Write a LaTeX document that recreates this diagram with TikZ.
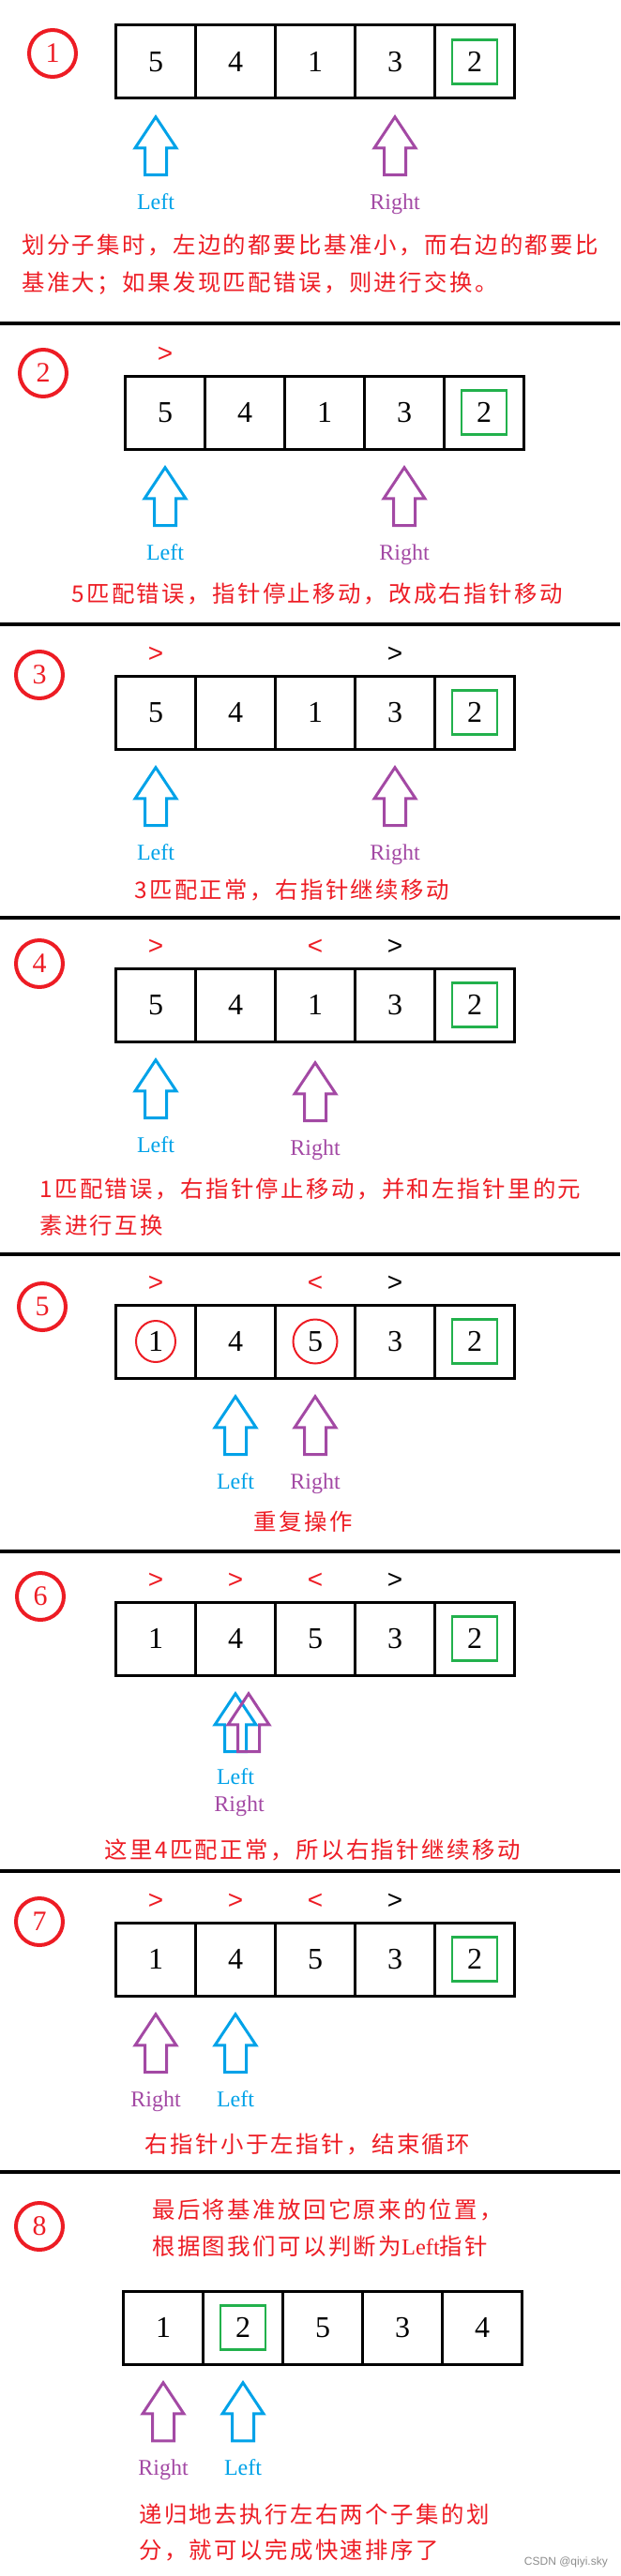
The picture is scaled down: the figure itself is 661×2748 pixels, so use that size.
\documentclass[tikz,border=0pt]{standalone}
\usepackage{fontspec}
\setmainfont{Liberation Serif}
\newfontfamily\cjk[LetterSpace=10]{Noto Sans CJK SC}
\newfontfamily\symfont{Liberation Sans}
\usepackage{xcolor}
\usetikzlibrary{shapes.geometric, shapes.arrows, positioning}

\definecolor{pred}{RGB}{237,28,36}
\definecolor{pblue}{RGB}{0,162,232}
\definecolor{ppurple}{RGB}{163,73,164}
\definecolor{pgreen}{RGB}{34,177,76}

\begin{document}
\begin{tikzpicture}[
    x=1pt, y=-1pt,
    cell/.style={rectangle, draw, line width=3pt, minimum width=85pt, minimum height=78pt, inner sep=0pt, outer sep=0pt, font=\fontsize{32}{32}\selectfont},
    pivot/.style={rectangle, draw=pgreen, line width=2.5pt, minimum width=48pt, minimum height=47pt, inner sep=0pt},
    numc/.style={circle, draw=pred, line width=4pt, minimum size=50pt, inner sep=0pt, text=pred, font=\fontsize{30}{30}\selectfont},
    cmp/.style={inner sep=0pt, text=pred, font=\symfont\fontsize{28}{28}\selectfont},
    ptr/.style={single arrow, draw, line width=3pt, rotate=90, anchor=tip, inner sep=0pt, text height=20pt, text depth=0pt, minimum height=62pt, minimum width=1pt, single arrow head extend=10.5pt, single arrow tip angle=67},
    lbl/.style={inner sep=0pt, font=\fontsize{24}{24}\selectfont},
    note/.style={inner sep=0pt, text=pred, align=left, font=\cjk\fontsize{24.4}{40}\selectfont},
    hoop/.style={ellipse, draw=pred, line width=2pt, inner sep=0pt},
    divider/.style={line width=4.5pt}
]
\useasboundingbox (0,0) rectangle (661,2748);

% Step 1
\node[numc] (n1) at (56,57) {1};
\node[cell] (c11) at (166,66) {5};
\node[cell, right=0pt of c11] (c12) {4};
\node[cell, right=0pt of c12] (c13) {1};
\node[cell, right=0pt of c13] (c14) {3};
\node[cell, right=0pt of c14] (c15) {2};
\node[pivot] (g1) at (c15) {};
\node[below=17pt of c11, ptr, draw=pblue] (l1) {};
\node[below=17pt of c14, ptr, draw=ppurple] (r1) {};
\node[lbl, text=pblue, below=35pt of l1.tail, anchor=base] (lt1) {Left};
\node[lbl, text=ppurple, below=35pt of r1.tail, anchor=base] (rt1) {Right};
\node[note, anchor=west] (t1) at (23,282) {划分子集时，左边的都要比基准小，而右边的都要比\\基准大；如果发现匹配错误，则进行交换。};
\draw[divider] (0,345) -- (661,345);

% Step 2
\node[numc] (n2) at (46,398) {2};
\node[cell] (c21) at (176,440) {5};
\node[cell, right=0pt of c21] (c22) {4};
\node[cell, right=0pt of c22] (c23) {1};
\node[cell, right=0pt of c23] (c24) {3};
\node[cell, right=0pt of c24] (c25) {2};
\node[pivot] (g2) at (c25) {};
\node[cmp, above=14pt of c21] (m21) {>};
\node[below=17pt of c21, ptr, draw=pblue] (l2) {};
\node[below=17pt of c24, ptr, draw=ppurple] (r2) {};
\node[lbl, text=pblue, below=35pt of l2.tail, anchor=base] (lt2) {Left};
\node[lbl, text=ppurple, below=35pt of r2.tail, anchor=base] (rt2) {Right};
\node[note] (t2) at (338,633) {5匹配错误，指针停止移动，改成右指针移动};
\draw[divider] (0,666) -- (661,666);

% Step 3
\node[numc] (n3) at (42,720) {3};
\node[cell] (c31) at (166,760) {5};
\node[cell, right=0pt of c31] (c32) {4};
\node[cell, right=0pt of c32] (c33) {1};
\node[cell, right=0pt of c33] (c34) {3};
\node[cell, right=0pt of c34] (c35) {2};
\node[pivot] (g3) at (c35) {};
\node[cmp, above=14pt of c31] (m31) {>};
\node[cmp, text=black, above=14pt of c34] (m34) {>};
\node[below=17pt of c31, ptr, draw=pblue] (l3) {};
\node[below=17pt of c34, ptr, draw=ppurple] (r3) {};
\node[lbl, text=pblue, below=35pt of l3.tail, anchor=base] (lt3) {Left};
\node[lbl, text=ppurple, below=35pt of r3.tail, anchor=base] (rt3) {Right};
\node[note] (t3) at (311,950) {3匹配正常，右指针继续移动};
\draw[divider] (0,979) -- (661,979);

% Step 4
\node[numc] (n4) at (42,1028) {4};
\node[cell] (c41) at (166,1072) {5};
\node[cell, right=0pt of c41] (c42) {4};
\node[cell, right=0pt of c42] (c43) {1};
\node[cell, right=0pt of c43] (c44) {3};
\node[cell, right=0pt of c44] (c45) {2};
\node[pivot] (g4) at (c45) {};
\node[cmp, above=14pt of c41] (m41) {>};
\node[cmp, above=14pt of c43] (m43) {<};
\node[cmp, text=black, above=14pt of c44] (m44) {>};
\node[below=17pt of c41, ptr, draw=pblue] (l4) {};
\node[below=20pt of c43, ptr, draw=ppurple] (r4) {};
\node[lbl, text=pblue, below=35pt of l4.tail, anchor=base] (lt4) {Left};
\node[lbl, text=ppurple, below=35pt of r4.tail, anchor=base] (rt4) {Right};
\node[note, anchor=west, font=\cjk\fontsize{24.4}{39}\selectfont] (t4) at (42,1288) {1匹配错误，右指针停止移动，并和左指针里的元\\素进行互换};
\draw[divider] (0,1338) -- (661,1338);

% Step 5
\node[numc] (n5) at (45,1394) {5};
\node[cell] (c51) at (166,1431) {1};
\node[cell, right=0pt of c51] (c52) {4};
\node[cell, right=0pt of c52] (c53) {5};
\node[cell, right=0pt of c53] (c54) {3};
\node[cell, right=0pt of c54] (c55) {2};
\node[pivot] (g5) at (c55) {};
\node[hoop, minimum width=42pt, minimum height=44pt] (e51) at (c51) {};
\node[hoop, minimum width=47pt, minimum height=47pt] (e53) at (c53) {};
\node[cmp, above=14pt of c51] (m51) {>};
\node[cmp, above=14pt of c53] (m53) {<};
\node[cmp, text=black, above=14pt of c54] (m54) {>};
\node[below=17pt of c52, ptr, draw=pblue] (l5) {};
\node[below=17pt of c53, ptr, draw=ppurple] (r5) {};
\node[lbl, text=pblue, below=35pt of l5.tail, anchor=base] (lt5) {Left};
\node[lbl, text=ppurple, below=35pt of r5.tail, anchor=base] (rt5) {Right};
\node[note] (t5) at (323,1623) {重复操作};
\draw[divider] (0,1655) -- (661,1655);

% Step 6
\node[numc] (n6) at (43,1703) {6};
\node[cell] (c61) at (166,1748) {1};
\node[cell, right=0pt of c61] (c62) {4};
\node[cell, right=0pt of c62] (c63) {5};
\node[cell, right=0pt of c63] (c64) {3};
\node[cell, right=0pt of c64] (c65) {2};
\node[pivot] (g6) at (c65) {};
\node[cmp, above=14pt of c61] (m61) {>};
\node[cmp, above=14pt of c62] (m62) {>};
\node[cmp, above=14pt of c63] (m63) {<};
\node[cmp, text=black, above=14pt of c64] (m64) {>};
\node[below=17pt of c62, ptr, draw=pblue] (l6) {};
\node[ptr, draw=ppurple] (r6) at ([xshift=14pt, yshift=-17pt]c62.south) {};
\node[lbl, text=pblue, below=33pt of l6.tail, anchor=base] (lt6) {Left};
\node[lbl, text=ppurple, below=29pt of lt6.base, anchor=base, xshift=4pt] (rt6) {Right};
\node[note] (t6) at (333,1973) {这里4匹配正常，所以右指针继续移动};
\draw[divider] (0,1996) -- (661,1996);

% Step 7
\node[numc] (n7) at (42,2050) {7};
\node[cell] (c71) at (166,2090) {1};
\node[cell, right=0pt of c71] (c72) {4};
\node[cell, right=0pt of c72] (c73) {5};
\node[cell, right=0pt of c73] (c74) {3};
\node[cell, right=0pt of c74] (c75) {2};
\node[pivot] (g7) at (c75) {};
\node[cmp, above=14pt of c71] (m71) {>};
\node[cmp, above=14pt of c72] (m72) {>};
\node[cmp, above=14pt of c73] (m73) {<};
\node[cmp, text=black, above=14pt of c74] (m74) {>};
\node[below=17pt of c71, ptr, draw=ppurple] (r7) {};
\node[below=17pt of c72, ptr, draw=pblue] (l7) {};
\node[lbl, text=ppurple, below=35pt of r7.tail, anchor=base] (rt7) {Right};
\node[lbl, text=pblue, below=35pt of l7.tail, anchor=base] (lt7) {Left};
\node[note] (t7) at (328,2288) {右指针小于左指针，结束循环};
\draw[divider] (0,2317) -- (661,2317);

% Step 8
\node[numc] (n8) at (42,2375) {8};
\node[note, anchor=west, font=\cjk\fontsize{24.4}{39}\selectfont] (t8) at (162,2377) {最后将基准放回它原来的位置，\\根据图我们可以判断为{\rmfamily Left}指针};
\node[cell] (c81) at (174,2483) {1};
\node[cell, right=0pt of c81] (c82) {2};
\node[cell, right=0pt of c82] (c83) {5};
\node[cell, right=0pt of c83] (c84) {3};
\node[cell, right=0pt of c84] (c85) {4};
\node[pivot] (g8) at (c82) {};
\node[below=17pt of c81, ptr, draw=ppurple] (r8) {};
\node[below=17pt of c82, ptr, draw=pblue] (l8) {};
\node[lbl, text=ppurple, below=35pt of r8.tail, anchor=base] (rt8) {Right};
\node[lbl, text=pblue, below=35pt of l8.tail, anchor=base] (lt8) {Left};
\node[note, anchor=west, font=\cjk\fontsize{24.4}{38}\selectfont] (t9) at (148,2701) {递归地去执行左右两个子集的划\\分，就可以完成快速排序了};
\node[anchor=east, inner sep=0pt, text=black!45, font=\symfont\fontsize{12}{12}\selectfont] (wm) at (648,2733) {CSDN @qiyi.sky};

\end{tikzpicture}
\end{document}
